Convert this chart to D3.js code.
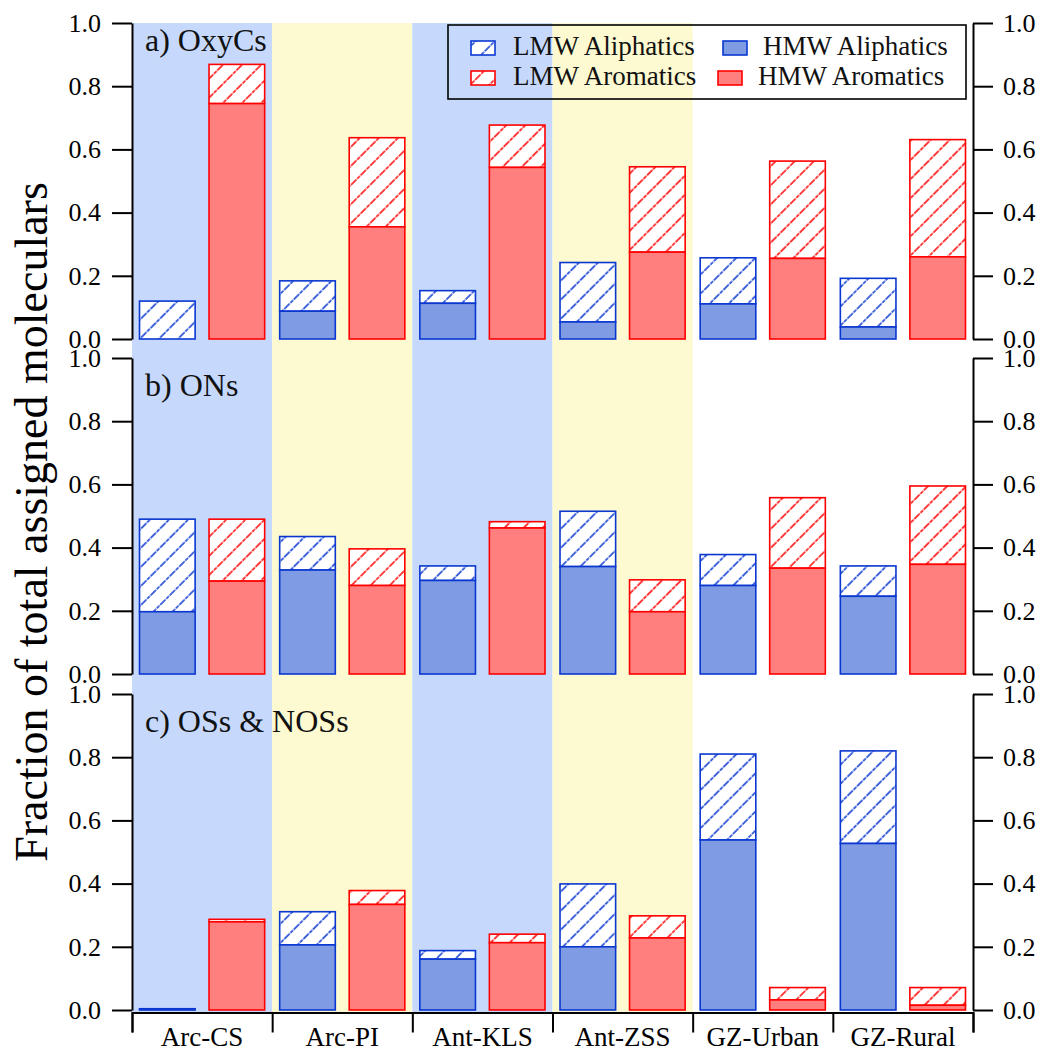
<!DOCTYPE html>
<html><head><meta charset="utf-8">
<script src="https://cdn.jsdelivr.net/npm/d3@7"></script>
<style>body{margin:0;background:#fff} text{font-family:"Liberation Serif","Times New Roman",serif;}</style>
</head><body><svg id="chart" width="1044" height="1057"></svg>
<script>
// ---------- data ----------
const sites = ["Arc-CS","Arc-PI","Ant-KLS","Ant-ZSS","GZ-Urban","GZ-Rural"];
const siteShade = ["blue","yellow","blue","yellow","none","none"];
const panelTitles = ["a) OxyCs","b) ONs","c) OSs & NOSs"];
const yTickValues = [0,0.2,0.4,0.6,0.8,1.0];
const seriesNames = ["LMW Aliphatics","LMW Aromatics","HMW Aliphatics","HMW Aromatics"];

// a) OxyCs
const oxyAliHMW = [0.000,0.088,0.113,0.054,0.111,0.038];
const oxyAliLMW = [0.120,0.096,0.040,0.188,0.146,0.154];
const oxyAroHMW = [0.745,0.355,0.543,0.275,0.255,0.260];
const oxyAroLMW = [0.124,0.282,0.134,0.270,0.308,0.371];
// b) ONs
const onAliHMW = [0.197,0.329,0.296,0.340,0.280,0.246];
const onAliLMW = [0.293,0.106,0.046,0.175,0.098,0.096];
const onAroHMW = [0.294,0.280,0.462,0.197,0.335,0.347];
const onAroLMW = [0.196,0.116,0.020,0.101,0.223,0.248];
// c) OSs & NOSs
const osAliHMW = [0.000,0.206,0.161,0.200,0.538,0.527];
const osAliLMW = [0.004,0.105,0.027,0.199,0.272,0.293];
const osAroHMW = [0.279,0.334,0.213,0.228,0.032,0.015];
const osAroLMW = [0.008,0.044,0.027,0.070,0.039,0.056];

const panelData = [
  {ali:[oxyAliHMW,oxyAliLMW], aro:[oxyAroHMW,oxyAroLMW]},
  {ali:[onAliHMW,onAliLMW],   aro:[onAroHMW,onAroLMW]},
  {ali:[osAliHMW,osAliLMW],   aro:[osAroHMW,osAroLMW]}
];

// ---------- style ----------
const BLUE = "#0a37d0", BLUE_FILL = "#7f9be3";
const RED = "#ff0000", RED_FILL = "#ff7f7f";
const SHADE = {blue:"#c6d9fc", yellow:"#fdf9d0"};
const FONT = '"Liberation Serif","Times New Roman",serif';

const svg = d3.select("#chart");
const defs = svg.append("defs");
function hatch(id, color){
  const s = 13.5;
  const p = defs.append("pattern").attr("id",id).attr("patternUnits","userSpaceOnUse")
    .attr("width",s).attr("height",s).attr("patternTransform","rotate(45)");
  p.append("rect").attr("width",s).attr("height",s).attr("fill","#fff");
  p.append("line").attr("x1",1).attr("x2",1).attr("y1",0).attr("y2",s)
    .attr("stroke",color).attr("stroke-width",1.5).attr("stroke-dasharray","4,1");
}
hatch("hatchBlue", BLUE); hatch("hatchRed", RED);

const xLeft = 132, xRight = 973;
const panelTop = [23, 358, 694], panelH = 316;
const titleOffset = [28, 38, 38];
const xAxisY = 1012.5;

const x = d3.scaleBand().domain(sites).range([xLeft, xRight]).padding(0);
const xInner = d3.scaleBand().domain(["ali","aro"]).range([0, x.bandwidth()])
  .paddingInner(0.2).paddingOuter(0.108);

// background shading
svg.append("g").selectAll("rect").data(sites).join("rect")
  .attr("x", d => x(d)).attr("width", x.bandwidth())
  .attr("y", panelTop[0]).attr("height", xAxisY - panelTop[0])
  .attr("fill", (d,i) => siteShade[i]==="none" ? "none" : SHADE[siteShade[i]]);

panelData.forEach((pd, pi) => {
  const y = d3.scaleLinear().domain([0,1]).range([panelTop[pi]+panelH, panelTop[pi]]);
  const g = svg.append("g");
  [["ali",BLUE,BLUE_FILL,"url(#hatchBlue)"],["aro",RED,RED_FILL,"url(#hatchRed)"]].forEach(([k,stroke,fill,pat]) => {
    const hmw = pd[k][0], lmw = pd[k][1];
    const stack = sites.map((s,i) => ({s, h:hmw[i], l:lmw[i]}));
    g.append("g").selectAll("rect").data(stack).join("rect")
      .attr("x", d => x(d.s) + xInner(k)).attr("width", xInner.bandwidth())
      .attr("y", d => y(d.h + d.l)).attr("height", d => y(d.h) - y(d.h + d.l))
      .attr("fill", pat).attr("stroke", stroke).attr("stroke-width",1.6);
    g.append("g").selectAll("rect").data(stack.filter(d => d.h > 0)).join("rect")
      .attr("x", d => x(d.s) + xInner(k)).attr("width", xInner.bandwidth())
      .attr("y", d => y(d.h)).attr("height", d => y(0) - y(d.h))
      .attr("fill", fill).attr("stroke", stroke).attr("stroke-width",1.6);
  });
  const fmt = d3.format(".1f");
  const la = svg.append("g").attr("transform",`translate(${xLeft},0)`)
    .call(d3.axisLeft(y).tickValues(yTickValues).tickFormat(fmt).tickSize(20).tickSizeOuter(0).tickPadding(11));
  const ra = svg.append("g").attr("transform",`translate(${xRight},0)`)
    .call(d3.axisRight(y).tickValues(yTickValues).tickFormat(fmt).tickSize(20).tickSizeOuter(0).tickPadding(10));
  [la,ra].forEach(a => {
    a.selectAll("path,line").attr("stroke","#000").attr("stroke-width",2);
    a.selectAll("text").attr("font-family",FONT).attr("font-size",26).attr("fill","#000");
  });
  svg.append("text").attr("x",145).attr("y",panelTop[pi]+titleOffset[pi]).attr("font-size",32)
    .attr("fill","#111").text(panelTitles[pi]);
});

// x axis (group boundaries) + labels
const xb = d3.scaleLinear().domain([0, sites.length]).range([xLeft, xRight]);
const xa = svg.append("g").attr("transform",`translate(0,${xAxisY})`)
  .call(d3.axisBottom(xb).tickValues(d3.range(sites.length+1)).tickFormat("").tickSize(20).tickSizeOuter(20));
xa.selectAll("path,line").attr("stroke","#000").attr("stroke-width",2);
const xl = svg.append("g").attr("transform",`translate(0,${xAxisY})`)
  .call(d3.axisBottom(x).tickSize(0).tickPadding(14));
xl.select(".domain").remove();
xl.selectAll("text").attr("font-family",FONT).attr("font-size",27).attr("fill","#000");

// y title
svg.append("text").attr("transform","translate(47,522) rotate(-90)")
  .attr("text-anchor","middle").attr("font-size",46).attr("fill","#000")
  .text("Fraction of total assigned moleculars");

// legend
const lg = svg.append("g");
lg.append("rect").attr("x",448).attr("y",25).attr("width",518).attr("height",74)
  .attr("fill","none").attr("stroke","#000").attr("stroke-width",1.6);
const legendItems = [
  {name:seriesNames[0], fill:"url(#hatchBlue)", stroke:BLUE, sx:471, tx:513, row:0},
  {name:seriesNames[1], fill:"url(#hatchRed)",  stroke:RED,  sx:471, tx:513, row:1},
  {name:seriesNames[2], fill:BLUE_FILL,         stroke:BLUE, sx:723, tx:763, row:0},
  {name:seriesNames[3], fill:RED_FILL,          stroke:RED,  sx:718, tx:758, row:1}
];
legendItems.forEach(d => {
  const yy = 41 + d.row*30;
  lg.append("rect").attr("x",d.sx).attr("y",yy).attr("width",24).attr("height",14)
    .attr("fill",d.fill).attr("stroke",d.stroke).attr("stroke-width",1.6);
  lg.append("text").attr("x",d.tx).attr("y",yy+14).attr("font-size",27).attr("fill","#111").text(d.name);
});
</script></body></html>
